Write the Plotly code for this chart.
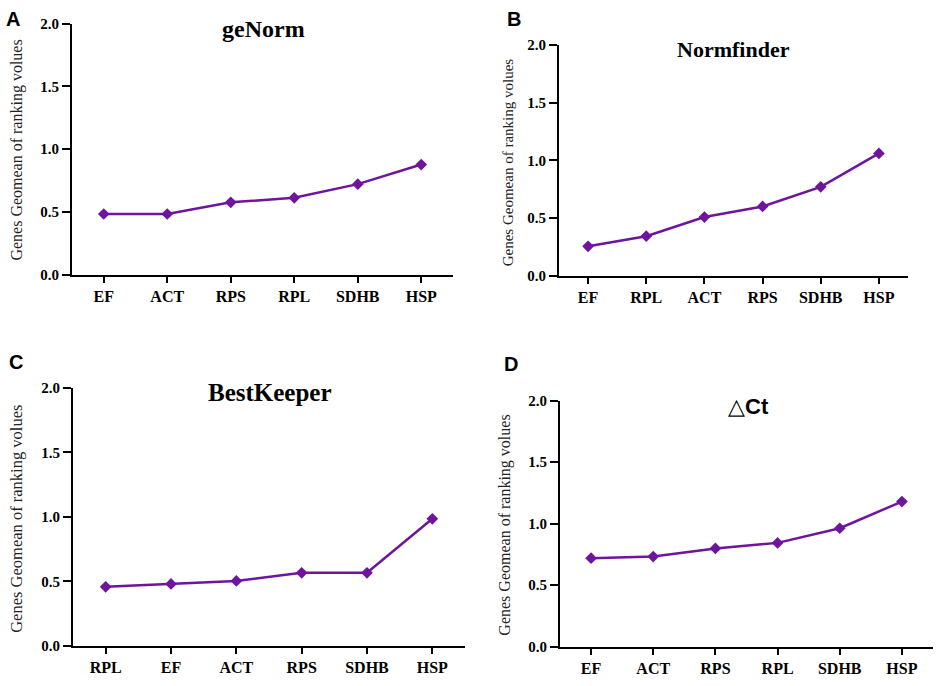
import plotly.graph_objects as go

# panel data
genes_a = ['EF', 'ACT', 'RPS', 'RPL', 'SDHB', 'HSP']
vals_a = [0.483, 0.483, 0.576, 0.612, 0.721, 0.877]

genes_b = ['EF', 'RPL', 'ACT', 'RPS', 'SDHB', 'HSP']
vals_b = [0.254, 0.342, 0.508, 0.600, 0.770, 1.060]

genes_c = ['RPL', 'EF', 'ACT', 'RPS', 'SDHB', 'HSP']
vals_c = [0.457, 0.480, 0.503, 0.566, 0.566, 0.985]

genes_d = ['EF', 'ACT', 'RPS', 'RPL', 'SDHB', 'HSP']
vals_d = [0.720, 0.733, 0.799, 0.844, 0.963, 1.180]

titles = ['geNorm', 'Normfinder', 'BestKeeper', '\u25b3<b>Ct</b>']
letters = ['A', 'B', 'C', 'D']
y_ticks = [0, 0.5, 1.0, 1.5, 2.0]
y_ticklabels = ['0.0', '0.5', '1.0', '1.5', '2.0']

W, H = 941, 686
purple = '#6E149E'
serif = 'Liberation Serif'

# pixel boxes of each plot area: left, right, top, bottom
boxes = [(72, 453, 16, 273), (559, 908, 38, 274),
         (73, 465, 389, 653), (560, 933, 402, 654)]
title_pos = [(263, 22), (733, 43), (270, 394), (748, 408)]
title_size = [24, 22, 25, 22]
ytitle_pos = [(17, 146), (508, 158), (17, 523), (505, 530)]
ytitle_size = [16, 15, 16.5, 16]
letter_pos = [(4, 11), (505, 11), (7, 362), (502, 364)]


def px(x):
    return x / W


def py(y):
    return 1 - y / H


fig = go.Figure()
panels = [(genes_a, vals_a), (genes_b, vals_b), (genes_c, vals_c), (genes_d, vals_d)]

for i, (genes, vals) in enumerate(panels):
    n = '' if i == 0 else str(i + 1)
    fig.add_trace(go.Scatter(
        x=genes, y=vals, mode='lines+markers',
        xaxis='x' + n, yaxis='y' + n,
        line=dict(color=purple, width=2.5),
        marker=dict(symbol='diamond', size=9, color=purple),
        showlegend=False
    ))
    l, r, t, b = boxes[i]
    fig.update_layout({
        'xaxis' + n: dict(
            domain=[px(l), px(r)], anchor='y' + n,
            range=[-0.5, 5.5], showline=True, linecolor='black', linewidth=2,
            ticks='outside', ticklen=6, tickwidth=2, tickcolor='black',
            showgrid=False, zeroline=False,
            tickfont=dict(family=serif, size=16, color='black', weight='bold'),
        ),
        'yaxis' + n: dict(
            domain=[py(b), py(t)], anchor='x' + n,
            range=[0, 2.0], showline=True, linecolor='black', linewidth=2,
            ticks='outside', ticklen=8, tickwidth=2, tickcolor='black',
            tickvals=y_ticks, ticktext=y_ticklabels,
            showgrid=False, zeroline=False,
            tickfont=dict(family=serif, size=15, color='black', weight='bold'),
        ),
    })

    tx, ty = title_pos[i]
    fig.add_annotation(
        x=px(tx), y=py(ty), xref='paper', yref='paper',
        text=titles[i], showarrow=False,
        font=dict(family=serif if i < 3 else 'Liberation Sans',
                  size=title_size[i],
                  color='black', weight='bold' if i < 3 else 'normal'),
        xanchor='center', yanchor='middle'
    )
    yx, yy = ytitle_pos[i]
    fig.add_annotation(
        x=px(yx), y=py(yy), xref='paper', yref='paper',
        text='Genes Geomean of ranking volues', showarrow=False, textangle=-90,
        font=dict(family=serif, size=ytitle_size[i], color='#222222'),
        xanchor='center', yanchor='middle'
    )
    lx, ly = letter_pos[i]
    fig.add_annotation(
        x=px(lx), y=py(ly), xref='paper', yref='paper',
        text='<b>' + letters[i] + '</b>', showarrow=False,
        font=dict(family='Liberation Sans', size=20, color='black'),
        xanchor='left', yanchor='middle'
    )

fig.update_layout(
    width=W, height=H,
    margin=dict(l=0, r=0, t=0, b=0),
    plot_bgcolor='white', paper_bgcolor='white',
)

# drop the page's default body margin so the figure fills the window
fig.write_html("out.html", config={'displayModeBar': False},
               post_script="document.body.style.margin='0';")
